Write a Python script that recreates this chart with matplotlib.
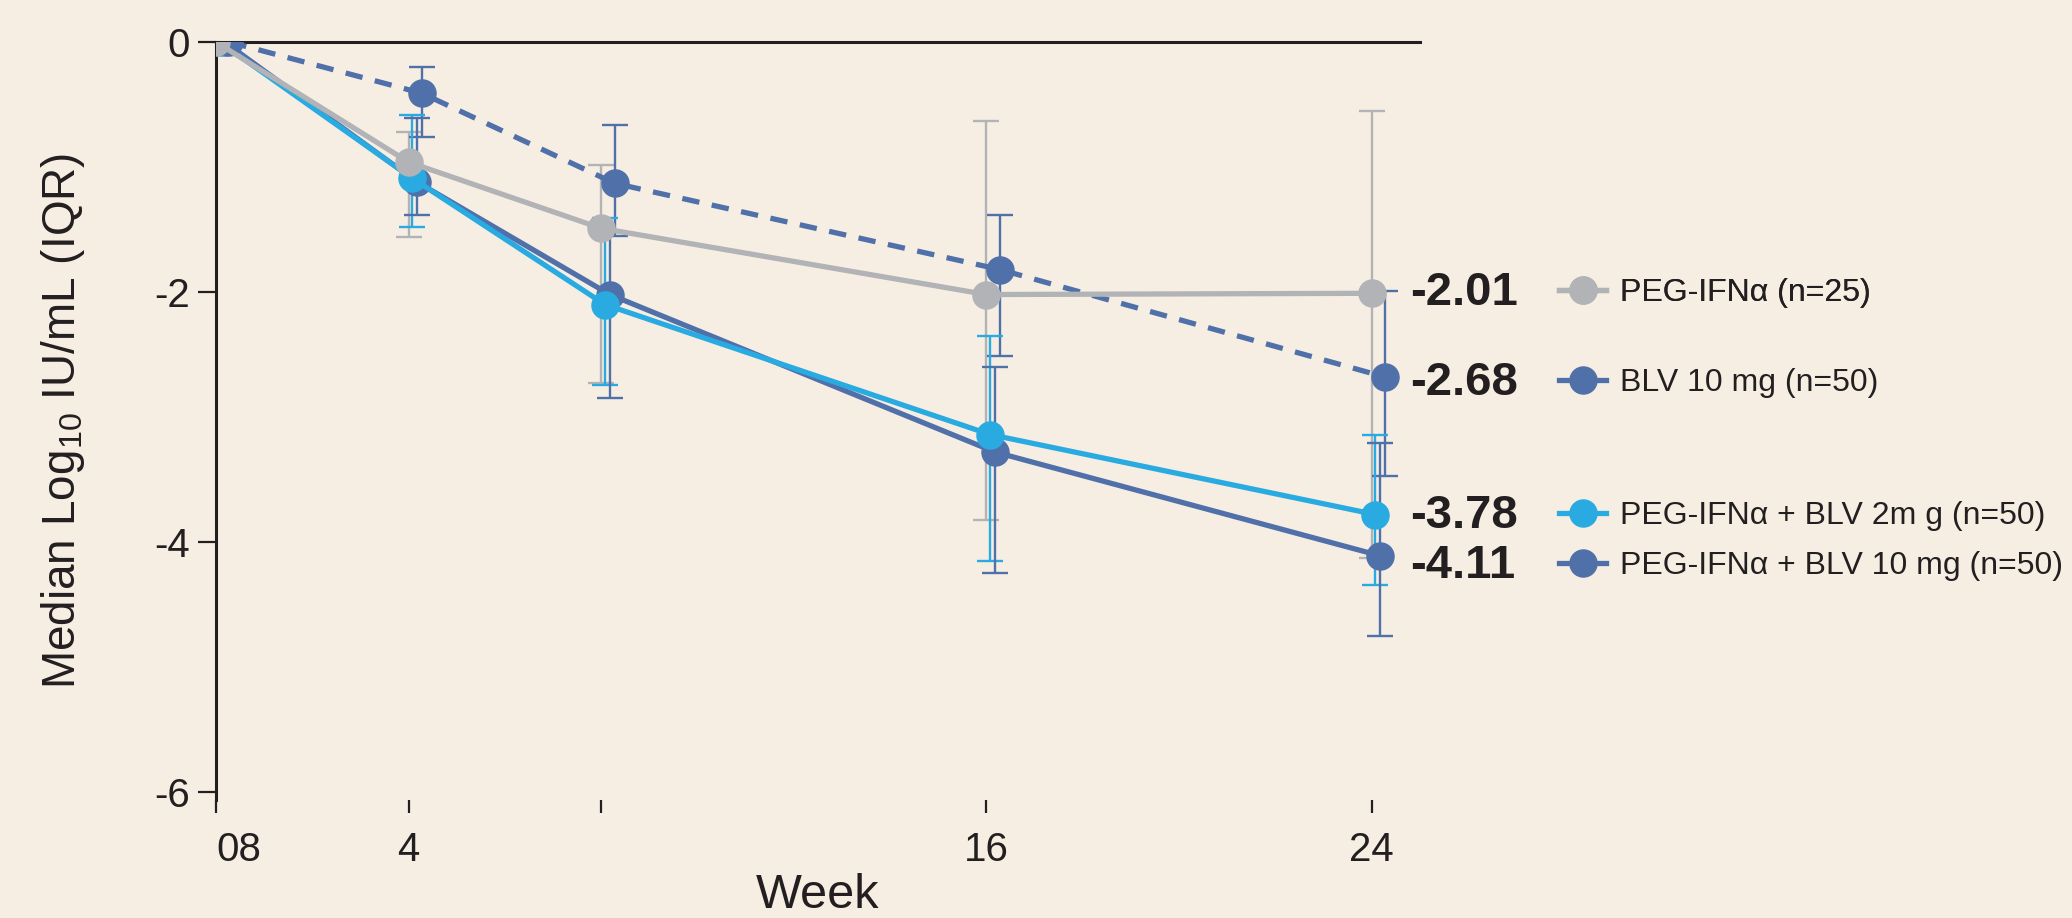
import numpy as np
import matplotlib.pyplot as plt
from matplotlib.lines import Line2D

plt.rcParams['font.family'] = ['Liberation Sans Narrow', 'Liberation Sans', 'DejaVu Sans']
plt.rcParams['mathtext.fontset'] = 'custom'
plt.rcParams['mathtext.rm'] = 'Liberation Sans'
plt.rcParams['mathtext.default'] = 'regular'

# данные (медиана и межквартильный размах)
weeks = [0, 4, 8, 16, 24]
tick_labels = ['08', '4', '', '16', '24']

names = ['PEG-IFNα (n=25)', 'BLV 10 mg (n=50)',
         'PEG-IFNα + BLV 2m g (n=50)', 'PEG-IFNα + BLV 10 mg (n=50)']

peg_med = [0, -0.96, -1.49, -2.02, -2.01]
peg_lo = [np.nan, -1.56, -2.73, -3.82, -4.13]
peg_hi = [np.nan, -0.72, -0.98, -0.63, -0.55]

blv10_med = [0, -0.41, -1.13, -1.82, -2.68]
blv10_lo = [np.nan, -0.76, -1.55, -2.51, -3.47]
blv10_hi = [np.nan, -0.20, -0.66, -1.38, -1.99]

combo2_med = [0, -1.09, -2.10, -3.14, -3.78]
combo2_lo = [np.nan, -1.48, -2.74, -4.15, -4.34]
combo2_hi = [np.nan, -0.58, -1.41, -2.35, -3.14]

combo10_med = [0, -1.12, -2.02, -3.28, -4.11]
combo10_lo = [np.nan, -1.38, -2.85, -4.25, -4.75]
combo10_hi = [np.nan, -0.61, -1.52, -2.60, -3.21]

bg = '#f6eee2'
ink = '#231f20'
gray = '#b2b3b6'
cyan = '#29abe2'
dark = '#5070aa'

# порядок отрисовки: снизу вверх
series = [
    (3, combo10_med, combo10_lo, combo10_hi, dark, '-', 0.18),
    (2, combo2_med, combo2_lo, combo2_hi, cyan, '-', 0.08),
    (1, blv10_med, blv10_lo, blv10_hi, dark, '--', 0.28),
    (0, peg_med, peg_lo, peg_hi, gray, '-', 0.0),
]

label_y = [-2.01, -2.73, -3.79, -4.19]  # положение подписей справа

fig = plt.figure(figsize=(20.72, 9.18), dpi=100, facecolor=bg)
ax = fig.add_axes([0.1042, 0.1285, 0.581, 0.8257], facecolor=bg)

for k, med, lo, hi, col, ls, dx in series:
    x = np.array(weeks) + dx
    med = np.array(med)
    yerr = [med - np.array(lo), np.array(hi) - med]
    ax.errorbar(x, med, yerr=yerr, fmt='none', ecolor=col, elinewidth=1.7,
                capsize=9.5, capthick=1.7, zorder=2 + k * 0.01)
    line, = ax.plot(x, med, color=col, lw=3.8, ls=ls, marker='o',
                    markersize=19.5, zorder=3 + (3 - k))
    if ls == '--':
        line.set_dashes((3.3, 2.4))

    # подпись итогового значения
    ax.text(24.8, label_y[k], f'{med[-1]:.2f}', fontsize=34, fontweight='bold',
            color=ink, va='center', ha='left', clip_on=False)

    # отдельная легенда на каждую серию
    h = Line2D([], [], color=col, lw=3.8, marker='o', markersize=19.5)
    leg = ax.legend([h], [names[k]], loc='center left',
                    bbox_to_anchor=(27.9, label_y[k]),
                    bbox_transform=ax.transData, frameon=False,
                    fontsize=23, handlelength=1.45, handletextpad=0.45,
                    borderaxespad=0, borderpad=0, labelcolor=ink)
    ax.add_artist(leg)

ax.set_xlim(0, 25)
ax.set_ylim(-6.064, 0)

ax.spines['right'].set_visible(False)
ax.spines['bottom'].set_visible(False)
for s in ['left', 'top']:
    ax.spines[s].set_linewidth(2.2)
    ax.spines[s].set_color(ink)

ax.set_yticks([0, -2, -4, -6])
ax.set_yticklabels(['0', '-2', '-4', '-6'])
ax.set_xticks(weeks)
ax.set_xticklabels(tick_labels)
ax.get_xticklabels()[0].set_horizontalalignment('left')

ax.tick_params(axis='y', direction='out', length=13, width=1.6, colors=ink,
               labelsize=29, pad=6)
ax.tick_params(axis='x', direction='out', length=9, width=1.6, colors=ink,
               labelsize=29, pad=13)

ax.set_xlabel('Week', fontsize=35, color=ink, labelpad=3)
ax.set_ylabel(r'Median Log$_{10}$ IU/mL (IQR)', fontsize=33, color=ink,
              labelpad=48)

fig.savefig('out.png', dpi=100, facecolor=bg)
